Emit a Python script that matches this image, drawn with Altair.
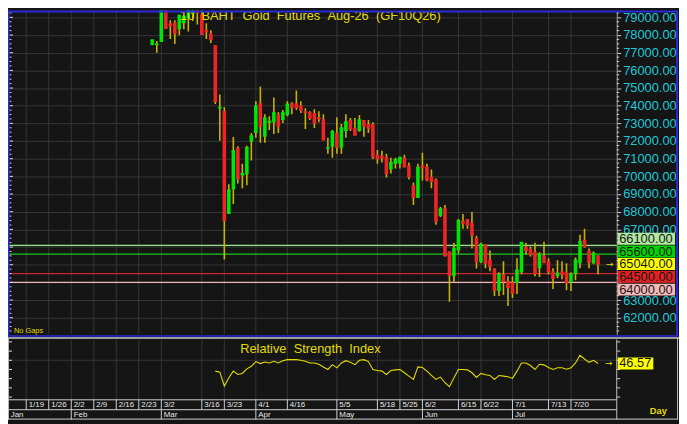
import altair as alt
import pandas as pd

# ---------------- data ----------------
opens = [77434, 77430, 77600, 79500, 78650, 78720, 78330, 78660, 78940, 79170,
         79500, 79170, 78300, 78100, 77430, 73850, 73700, 67870, 69270, 71620,
         70050, 70110, 71960, 72460, 74140, 72240, 73050, 73070, 73520, 73190,
         73470, 74140, 74140, 74020, 73690, 73630, 73580, 73330, 73240, 71590,
         71670, 72460, 71620, 72570, 73190, 72740, 72570, 73190, 72960, 72960,
         71230, 71170, 71110, 70390, 70720, 70720, 71060, 70610, 69500, 68770,
         70610, 70560, 70000, 69830, 67760, 68210, 65750, 64350, 65810, 67480,
         67590, 67370, 66530, 65140, 66140, 65300, 64800, 63510, 64460, 64070,
         64010, 63960, 64580, 66030, 65920, 65750, 64800, 65530, 65190, 64630,
         64350, 64630, 64580, 64010, 64460, 65080, 66420, 65810, 65080, 65530]
highs = [77720, 77660, 79600, 79600, 78830, 78830, 79150, 79110, 79550, 79560,
         79560, 79450, 78660, 78270, 77430, 74640, 73910, 69550, 72230, 71700,
         70720, 71730, 72460, 74250, 75090, 73520, 73400, 74470, 73630, 73750,
         74250, 74190, 74860, 74250, 73860, 73690, 73800, 73690, 73520, 72180,
         72630, 73350, 72960, 73520, 73300, 73300, 73460, 73190, 73190, 73070,
         71500, 71450, 71280, 71060, 71060, 71110, 71230, 70780, 69660, 70720,
         71340, 70720, 70390, 69880, 68260, 68380, 65750, 66250, 67590, 67870,
         67590, 67980, 66640, 66250, 66140, 65810, 64800, 64580, 65190, 64350,
         64350, 65360, 66250, 66250, 66030, 66250, 65700, 66300, 65360, 64800,
         65250, 65190, 65080, 64580, 65410, 66700, 67030, 65920, 65750, 65530]
lows = [77420, 76990, 77600, 78385, 77770, 77490, 77990, 78330, 78200, 78800,
        78600, 78050, 77770, 77550, 74100, 72010, 65300, 67870, 68430, 69600,
        69330, 69500, 70900, 72180, 71900, 71900, 72620, 72400, 72460, 73020,
        73410, 73520, 73750, 73580, 72680, 73190, 72740, 73070, 72070, 71280,
        71060, 71280, 71280, 72180, 72570, 72350, 72520, 72240, 72460, 70990,
        70720, 70780, 69940, 70160, 70440, 70440, 70500, 69830, 68380, 68770,
        69770, 69720, 69330, 67260, 67700, 65470, 62900, 64010, 65640, 67030,
        67030, 65920, 64790, 65080, 64800, 64630, 63230, 63230, 63280, 62670,
        63120, 63340, 64460, 65580, 65470, 64350, 64300, 65080, 64460, 63620,
        64240, 64180, 63560, 63510, 64120, 64800, 65980, 64800, 65020, 64460]
closes = [77714, 77470, 79500, 78385, 78550, 78100, 79110, 79050, 79450, 79500,
          79280, 78050, 78200, 77770, 74250, 73900, 67530, 69210, 71450, 69880,
          70150, 71620, 72290, 73970, 72850, 73300, 73100, 73580, 72850, 73580,
          74080, 73910, 73910, 73750, 73630, 73300, 73020, 73280, 72070, 71620,
          72520, 71670, 72740, 73070, 72680, 72350, 73190, 72850, 72740, 71110,
          71000, 71060, 70160, 70780, 70940, 71060, 70560, 70000, 68820, 70500,
          70500, 69830, 69720, 67480, 68150, 65520, 64400, 65920, 67480, 67370,
          67260, 66700, 65190, 66140, 65080, 64910, 63560, 64460, 64070, 63730,
          63400, 64690, 66250, 65810, 65580, 64520, 65580, 65140, 64630, 64240,
          64520, 64460, 64010, 64460, 65250, 66300, 66030, 65140, 65640, 65040]

rsi_first = 14
rsi_values = [38.2, 37.1, 22.0, 31.0, 38.2, 34.6, 35.7, 40.7, 43.5, 48.6,
              46.4, 48.2, 47.1, 48.9, 47.1, 49.6, 50.7, 50.7, 50.7, 50.0,
              48.9, 47.1, 47.1, 45.7, 42.8, 40.0, 45.3, 41.8, 47.1, 49.6,
              47.8, 45.3, 50.0, 50.7, 48.6, 40.0, 38.9, 38.2, 34.6, 38.9,
              39.6, 40.0, 36.4, 32.8, 29.2, 42.8, 42.1, 38.2, 33.5, 29.2,
              31.7, 25.6, 21.3, 31.0, 40.0, 40.0, 39.6, 36.4, 31.4, 35.7,
              34.2, 33.5, 29.2, 33.5, 32.8, 32.1, 30.3, 38.2, 47.1, 47.1,
              44.3, 40.0, 45.7, 45.0, 42.1, 40.0, 41.8, 41.8, 40.3, 41.8,
              47.1, 55.4, 51.4, 47.8, 50.0, 46.57]

tick_labels = ["1/19", "1/26", "2/2", "2/9", "2/16", "2/23", "3/2", "3/16", "3/23", "4/1",
               "4/16", "5/5", "5/18", "5/25", "6/2", "6/15", "6/22", "7/1", "7/13", "7/20"]
tick_idx = [-28, -23, -18, -13, -8, -3, 2, 11, 16, 23, 30, 41, 50, 55, 60, 68, 73, 80, 88, 93]
month_labels = ["Jan", "Feb", "Mar", "Apr", "May", "Jun", "Jul"]
month_idx = [-32, -18, 2, 23, 41, 60, 80]

line_levels = [66100, 65600, 64500, 64000]
title_words = ["10", "BAHT", "Gold", "Futures", "Aug-26", "(GF10Q26)"]
rsi_words = ["Relative", "Strength", "Index"]

# ---------------- style / layout ----------------
FONT = "Liberation Sans"
BG = "#151515"
GRID = "#363636"
GREEN = "#00e600"
RED = "#f02424"
WICK = "#c8b400"
YELLOW = "#e2dc00"
CYAN = "#1ec8d8"
BLUE = "#2a2ad8"
LINE = "#d0d0d0"
GAP = " \u00a0"          # wide word gap (non-collapsing)

W, H = 616, 414
PH = 328
R_TOP, R_BOT = 333, 394
P_DOM = [61046, 79391]
R_DOM = [7.0, 72.6]
X_DOM = [-32.05, 103.16]
P_PER_PX = (P_DOM[1] - P_DOM[0]) / PH

xs = alt.Scale(domain=X_DOM, nice=False, zero=False)
ps = alt.Scale(domain=P_DOM, range=[PH, 0], nice=False, zero=False)
rs = alt.Scale(domain=R_DOM, range=[R_BOT, R_TOP], nice=False, zero=False)


def X(f="i"):
    return alt.X(f + ":Q", scale=xs, axis=None)


def PY(f):
    return alt.Y(f + ":Q", scale=ps, axis=None)


def RY(f):
    return alt.Y(f + ":Q", scale=rs, axis=None)


one = pd.DataFrame({"k": [0]})


def hrule(y, x1, x2, color, w):
    return alt.Chart(one).mark_rule(color=color, strokeWidth=w).encode(
        x=alt.value(x1), x2=alt.value(x2), y=alt.value(y))


def vrule(x, y1, y2, color, w):
    return alt.Chart(one).mark_rule(color=color, strokeWidth=w).encode(
        x=alt.value(x), y=alt.value(y1), y2=alt.value(y2))


def label(text, x, y, size, color, align="center", baseline="middle", weight="normal"):
    return alt.Chart(one).mark_text(text=text, font=FONT, fontSize=size, color=color,
                                    align=align, baseline=baseline, fontWeight=weight).encode(
        x=alt.value(x), y=alt.value(y))


# ---------------- tables ----------------
cdf = pd.DataFrame({"i": list(range(len(opens))), "o": opens, "h": highs, "l": lows, "c": closes})
cdf["top"] = cdf[["o", "c"]].max(axis=1)
cdf["bot"] = cdf[["o", "c"]].min(axis=1)
cdf["col"] = [GREEN if c >= o else RED for o, c in zip(opens, closes)]

rdf = pd.DataFrame({"i": list(range(rsi_first, rsi_first + len(rsi_values))), "v": rsi_values})
tdf = pd.DataFrame({"i": tick_idx, "t": tick_labels})
mdf = pd.DataFrame({"i": month_idx, "t": month_labels})

lvl_line_cols = {66100: "#96e68c", 65600: "#1ec81e", 64500: "#c82828", 64000: "#f0b4b4"}
ldf = pd.DataFrame({"v": line_levels})
ldf["col"] = [lvl_line_cols[v] for v in line_levels]

last_close = closes[-1]
lab_vals = sorted(line_levels + [last_close], reverse=True)
lab_box = {66100: "#b0e8a0", 65600: "#00d400", last_close: "#ffff00", 64500: "#e42020", 64000: "#f4b8b8"}
lab_off_px = [-6.6, -2.6, 0.0, 3.3, 7.3]
bdf = pd.DataFrame({"v": lab_vals})
bdf["lab"] = [v - o * P_PER_PX for v, o in zip(lab_vals, lab_off_px)]
bdf["txt"] = [f"{v:.2f}" for v in lab_vals]
bdf["col"] = [lab_box[v] for v in lab_vals]

minor_p = pd.DataFrame({"v": [v for v in range(61250, 79391, 250) if v % 1000 != 0]})
major_p = pd.DataFrame({"v": list(range(62000, 80000, 1000))})
rsi_ticks = pd.DataFrame({"v": list(range(10, 80, 10))})
rsi_last = pd.DataFrame({"v": [rsi_values[-1]], "txt": [f"{rsi_values[-1]:.2f}"]})
last_df = pd.DataFrame({"v": [last_close]})

# axis labels hidden where the level boxes cover them
hide_lo, hide_hi = min(lab_vals) - 500, max(lab_vals) + 500
price_axis = alt.Axis(orient="right", values=list(range(62000, 80000, 1000)),
                      labelExpr=f"(datum.value > {hide_lo} && datum.value < {hide_hi}) ? '' : format(datum.value, '.2f')",
                      labelColor=CYAN, labelFont=FONT, labelFontSize=13, labelPadding=2,
                      labelOverlap=False, labelFlush=False, grid=True, gridColor=GRID,
                      gridWidth=1, domain=True, domainColor="#a8a8a8", tickColor="#d0d0d0",
                      tickSize=4, title=None)

vgrid_p = alt.Chart(tdf).mark_rule(color=GRID, strokeWidth=1).encode(
    x=X(), y=alt.value(0), y2=alt.value(PH))
vgrid_r = alt.Chart(tdf).mark_rule(color=GRID, strokeWidth=1).encode(
    x=X(), y=alt.value(R_TOP), y2=alt.value(R_BOT))
rgrid = alt.Chart(pd.DataFrame({"v": [50]})).mark_rule(color=GRID, strokeWidth=1).encode(y=RY("v"))

levels = alt.Chart(ldf).mark_rule(strokeWidth=1.2).encode(
    y=PY("v"), color=alt.Color("col:N", scale=None))

wicks = alt.Chart(cdf).mark_rule(color=WICK, strokeWidth=1.6, clip=True).encode(
    x=X(), y=alt.Y("l:Q", scale=ps, axis=price_axis), y2="h:Q")
bodies = alt.Chart(cdf).mark_rect(clip=True, xOffset=-1.8, x2Offset=1.8).encode(
    x=X(), x2="i:Q", y=PY("bot"), y2="top:Q", color=alt.Color("col:N", scale=None))
closes_mark = alt.Chart(cdf).mark_rule(clip=True, strokeWidth=1.6, xOffset=-1.8, x2Offset=1.8).encode(
    x=X(), x2="i:Q", y=PY("c"), color=alt.Color("col:N", scale=None))

rsi_line = alt.Chart(rdf).mark_line(color=YELLOW, strokeWidth=1.1).encode(x=X(), y=RY("v"))

tick_pl_min = alt.Chart(minor_p).mark_rule(color="#e0e0e0", strokeWidth=1).encode(
    x=alt.value(1.5), x2=alt.value(3.5), y=PY("v"))
tick_pl_maj = alt.Chart(major_p).mark_rule(color="#e0e0e0", strokeWidth=1).encode(
    x=alt.value(1.5), x2=alt.value(5), y=PY("v"))
tick_pr_min = alt.Chart(minor_p).mark_rule(color="#d0d0d0", strokeWidth=1).encode(
    x=alt.value(616), x2=alt.value(618.5), y=PY("v"))
tick_rl = alt.Chart(rsi_ticks).mark_rule(color="#e0e0e0", strokeWidth=1).encode(
    x=alt.value(1), x2=alt.value(4), y=RY("v"))
tick_rr = alt.Chart(rsi_ticks).mark_rule(color="#d0d0d0", strokeWidth=1).encode(
    x=alt.value(616), x2=alt.value(619.5), y=RY("v"))

boxes = alt.Chart(bdf).mark_rect(yOffset=-6, y2Offset=6).encode(
    x=alt.value(617), x2=alt.value(675), y=PY("lab"), y2="lab:Q",
    color=alt.Color("col:N", scale=None))
box_txt = alt.Chart(bdf).mark_text(align="left", baseline="middle", font=FONT, fontSize=13,
                                   color="#181818").encode(
    x=alt.value(618.5), y=PY("lab"), text="txt:N")

rbox = alt.Chart(rsi_last).mark_rect(yOffset=-6, y2Offset=6, color="#ffff00").encode(
    x=alt.value(617), x2=alt.value(653), y=RY("v"), y2="v:Q")
rbox_txt = alt.Chart(rsi_last).mark_text(align="left", baseline="middle", font=FONT, fontSize=13,
                                         color="#181818").encode(
    x=alt.value(618.5), y=RY("v"), text="txt:N")

arrow_p = alt.Chart(last_df).mark_text(text="→", fontSize=9, color=YELLOW, font="DejaVu Sans").encode(
    x=alt.value(609), y=PY("v"))
arrow_r = alt.Chart(rsi_last).mark_text(text="→", fontSize=9, color=YELLOW, font="DejaVu Sans").encode(
    x=alt.value(608), y=RY("v"))

tick_sep = alt.Chart(tdf).mark_rule(color=LINE, strokeWidth=1).encode(
    x=X(), y=alt.value(394), y2=alt.value(404))
tick_txt = alt.Chart(tdf).mark_text(align="left", baseline="middle", dx=2.5, font=FONT,
                                    fontSize=8, color="#e8e8e8").encode(
    x=X(), y=alt.value(399.5), text="t:N")
month_sep = alt.Chart(mdf).mark_rule(color=LINE, strokeWidth=1).encode(
    x=X(), y=alt.value(404), y2=alt.value(414))
month_txt = alt.Chart(mdf).mark_text(align="left", baseline="middle", dx=2.5, font=FONT,
                                     fontSize=8, color="#e8e8e8").encode(
    x=X(), y=alt.value(409.5), text="t:N")

layers = [
    vgrid_p, vgrid_r, rgrid,
    levels, wicks, bodies, closes_mark,
    rsi_line,
    tick_pl_min, tick_pl_maj, tick_pr_min, tick_rl, tick_rr,
    boxes, box_txt, rbox, rbox_txt, arrow_p, arrow_r,
    tick_sep, tick_txt, month_sep, month_txt,
    label(GAP.join(title_words), 306, 0, 13, YELLOW, baseline="top"),
    label("No Gaps", 6, 324, 7.5, YELLOW, align="left"),
    label(GAP.join(rsi_words), 306, 343, 13, YELLOW),
    label("Day", 658, 405, 9.5, YELLOW, weight="bold"),
    # frames and separators
    hrule(1, 0, 678, BLUE, 2),
    hrule(329.5, 0, 678, BLUE, 1.5),
    vrule(677, 0, 330, BLUE, 2),
    vrule(0.75, 0, 330, BLUE, 1.5),
    hrule(331.5, 0, 679, "#c8c8c8", 1.5),
    vrule(677.5, 331, 414, "#bdbdbd", 1),
    vrule(0.5, 331, 414, "#bdbdbd", 1),
    vrule(616, 333, 414, "#c0c0c0", 1),
    hrule(394, 0, 616, LINE, 1),
    hrule(404, 0, 616, LINE, 1),
    hrule(413.5, 0, 678, LINE, 1),
]

chart = alt.layer(*layers).resolve_scale(y="independent").properties(
    width=W, height=H,
    autosize=alt.AutoSizeParams(type="none"),
    padding={"left": 0, "top": 0, "right": 63, "bottom": 2},
    background=BG,
).configure_view(stroke=None)

chart.save("out.html", embed_options={"renderer": "svg", "actions": False})
